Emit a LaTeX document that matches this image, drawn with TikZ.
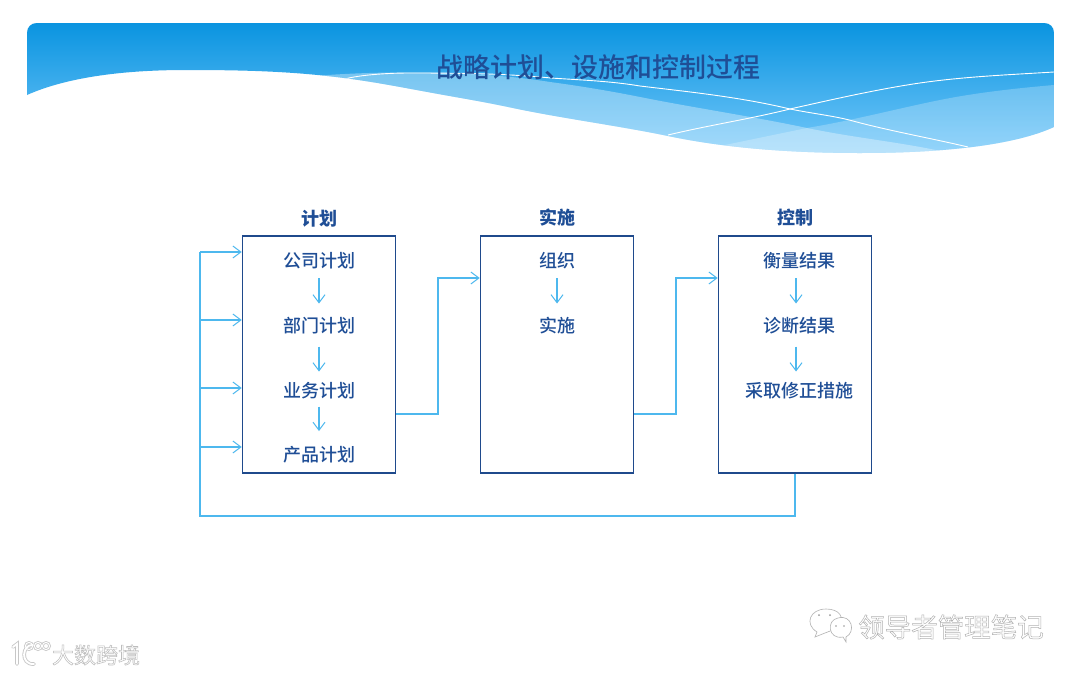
\documentclass[tikz,border=0pt]{standalone}
\usepackage{fontspec}
\setmainfont{Noto Sans CJK SC}
\newfontfamily\medfont{Noto Sans CJK SC Medium}
\usetikzlibrary{arrows.meta}
\definecolor{navy}{HTML}{1F4E96}
\definecolor{boxline}{HTML}{1F4A8C}
\definecolor{sky}{HTML}{4DB8EE}
\definecolor{bandtop}{HTML}{0A94E0}
\definecolor{bandlow}{HTML}{74C8FA}
\newcommand{\outlined}[3]{\special{pdf:code q #1 w #2 G 1 g 2 Tr}#3\special{pdf:code Q}}
\newcommand{\bandshape}{(27,95) -- (27,33) .. controls (27,27) and (31,23) .. (37,23) -- (1044,23) .. controls (1050,23) and (1054,27) .. (1054,33) -- (1054,127)
    .. controls (1015,145) and (945,153) .. (860,153)
    .. controls (790,153) and (725,148) .. (668,136)
    .. controls (620,126) and (560,118) .. (513,108)
    .. controls (480,101) and (460,98) .. (433,93)
    .. controls (400,87) and (375,82) .. (344,78)
    .. controls (290,71) and (240,70) .. (186,70)
    .. controls (120,70) and (65,78) .. (27,95) -- cycle}
\tikzset{
  titletext/.style={text=navy,font=\medfont\fontsize{27}{30}\selectfont,inner sep=0pt},
  headtext/.style={text=navy,font=\fontsize{18}{20}\selectfont\bfseries,inner sep=0pt},
  itemtext/.style={text=navy,font=\medfont\fontsize{18}{20}\selectfont,inner sep=0pt},
  stagebox/.style={draw=boxline,line width=1.1pt,fill=white,minimum width=153.5pt,minimum height=237pt,inner sep=0pt},
  link/.style={draw=sky,line width=1.1pt,-{Straight Barb[length=8pt,width=12pt,line width=1pt]}},
  plainlink/.style={draw=sky,line width=1.1pt},
  markone/.style={font=\fontsize{22}{24}\selectfont,inner sep=0pt},
  marktwo/.style={font=\fontsize{26.5}{28}\selectfont,inner sep=0pt},
}
\begin{document}
\begin{tikzpicture}[x=1pt,y=-1pt]
\useasboundingbox (0,0) rectangle (1080,675);
\fill[white] (0,0) rectangle (1080,675);
% band
\begin{scope}
  \shade[top color=bandtop,bottom color=bandlow] \bandshape;
  \clip \bandshape;
  \fill[white,opacity=.34] (313,76) .. controls (340,74) and (370,72.5) .. (400,72.5)
     .. controls (450,72.5) and (500,74) .. (550,82)
     .. controls (580,86) and (610,91) .. (640,97)
     .. controls (695,108) and (750,116) .. (807,128)
     .. controls (855,138) and (900,142) .. (945,152) -- (900,170) -- (300,130) -- cycle;
  \fill[white,opacity=.24] (725,145) -- (807,128)
     .. controls (855,120) and (900,108) .. (940,100)
     .. controls (980,92) and (1020,88) .. (1054,85) -- (1070,170) -- (725,170) -- cycle;
  \draw[white,line width=.9pt] (345,79) .. controls (355,76) and (380,73) .. (410,73)
     .. controls (470,73) and (510,74) .. (551,78)
     .. controls (580,80) and (610,81) .. (640,86)
     .. controls (690,92) and (740,97) .. (790,109)
     .. controls (815,114) and (835,116) .. (853,121)
     .. controls (890,131) and (930,138) .. (968,147);
  \draw[white,line width=.9pt] (668,135) .. controls (710,125) and (750,119) .. (790,109)
     .. controls (830,100) and (870,91) .. (907,85)
     .. controls (955,77) and (1005,75) .. (1054,72);
\end{scope}
\node[titletext] (title) at (598,67) {战略计划、设施和控制过程};
% boxes
\node[stagebox] (plan) at (319,354.5) {};
\node[stagebox] (exec) at (557,354.5) {};
\node[stagebox] (ctrl) at (795,354.5) {};
\node[headtext] (planh) at (319,219) {计划};
\node[headtext] (exech) at (557,218) {实施};
\node[headtext] (ctrlh) at (795,218) {控制};
\node[itemtext] (p1) at (319,261) {公司计划};
\node[itemtext] (p2) at (319,325.5) {部门计划};
\node[itemtext] (p3) at (319,390.5) {业务计划};
\node[itemtext] (p4) at (319,455) {产品计划};
\node[itemtext] (e1) at (557,261) {组织};
\node[itemtext] (e2) at (557,325.5) {实施};
\node[itemtext] (c1) at (799,261) {衡量结果};
\node[itemtext] (c2) at (799,325.5) {诊断结果};
\node[itemtext] (c3) at (799,390.5) {采取修正措施};
% inner arrows
\coordinate (ca1) at (796,261);
\coordinate (ca2) at (796,325.5);
\coordinate (ca3) at (796,390.5);
\draw[link,shorten <=17pt,shorten >=22pt] (p1.center) -- (p2.center);
\draw[link,shorten <=21pt,shorten >=19pt] (p2.center) -- (p3.center);
\draw[link,shorten <=16pt,shorten >=24pt] (p3.center) -- (p4.center);
\draw[link,shorten <=17pt,shorten >=22pt] (e1.center) -- (e2.center);
\draw[link,shorten <=17pt,shorten >=22pt] (ca1) -- (ca2);
\draw[link,shorten <=21pt,shorten >=19pt] (ca2) -- (ca3);
% feedback
\coordinate (busb) at (200,516);
\coordinate (bus1) at (200,252);
\coordinate (bus2) at (200,320);
\coordinate (bus3) at (200,388);
\coordinate (bus4) at (200,447);
\draw[plainlink] (ctrl.south) |- (busb) -- (bus1);
\draw[link] (bus1) -- (bus1 -| plan.west);
\draw[link] (bus2) -- (bus2 -| plan.west);
\draw[link] (bus3) -- (bus3 -| plan.west);
\draw[link] (bus4) -- (bus4 -| plan.west);
% forward
\coordinate (o1) at (396,414);
\coordinate (m1) at (438,414);
\coordinate (i1) at (438,278);
\coordinate (o2) at (634,414);
\coordinate (m2) at (676,414);
\coordinate (i2) at (676,278);
\draw[link] (o1 -| plan.east) -- (m1) -- (i1) -- (i1 -| exec.west);
\draw[link] (o2 -| exec.east) -- (m2) -- (i2) -- (i2 -| ctrl.west);
% watermarks
\node[markone] (wm1) at (96,655) {\outlined{.55}{.74}{大数跨境}};
\node[marktwo] (wm2) at (951,627) {\outlined{.5}{.7}{领导者管理笔记}};
% logo left
\begin{scope}[draw=black!22,line width=3.6pt,line cap=round]
  \draw (13,647) -- (17,644) -- (17,664);
  \draw (33,645) .. controls (22,644) and (20,665) .. (34,664);
  \draw[line width=2.6pt] (29,646) circle[radius=3.6];
  \draw[line width=2.6pt] (38,646) circle[radius=3.6];
  \draw[line width=2.6pt] (46,646) circle[radius=3.6];
\end{scope}
\begin{scope}[draw=white,line width=1.9pt,line cap=round]
  \draw (13,647) -- (17,644) -- (17,664);
  \draw (33,645) .. controls (22,644) and (20,665) .. (34,664);
  \draw[line width=1pt] (29,646) circle[radius=3.6];
  \draw[line width=1pt] (38,646) circle[radius=3.6];
  \draw[line width=1pt] (46,646) circle[radius=3.6];
\end{scope}
% wechat logo
\begin{scope}[draw=black!30,line width=.6pt,fill=white]
  \filldraw (815,637) -- (817,632) .. controls (804,624) and (810,609) .. (826,609) .. controls (839,609) and (846,617) .. (838,628) -- (825,633) -- cycle;
  \filldraw (846,642) -- (843,637) .. controls (828,640) and (826,620) .. (838,618) .. controls (852,614) and (856,632) .. (846,637) -- cycle;
  \fill[black!40] (819,615) circle[radius=1] (830,615) circle[radius=1] (836,626) circle[radius=.9] (844,626) circle[radius=.9];
\end{scope}
\end{tikzpicture}
\end{document}
